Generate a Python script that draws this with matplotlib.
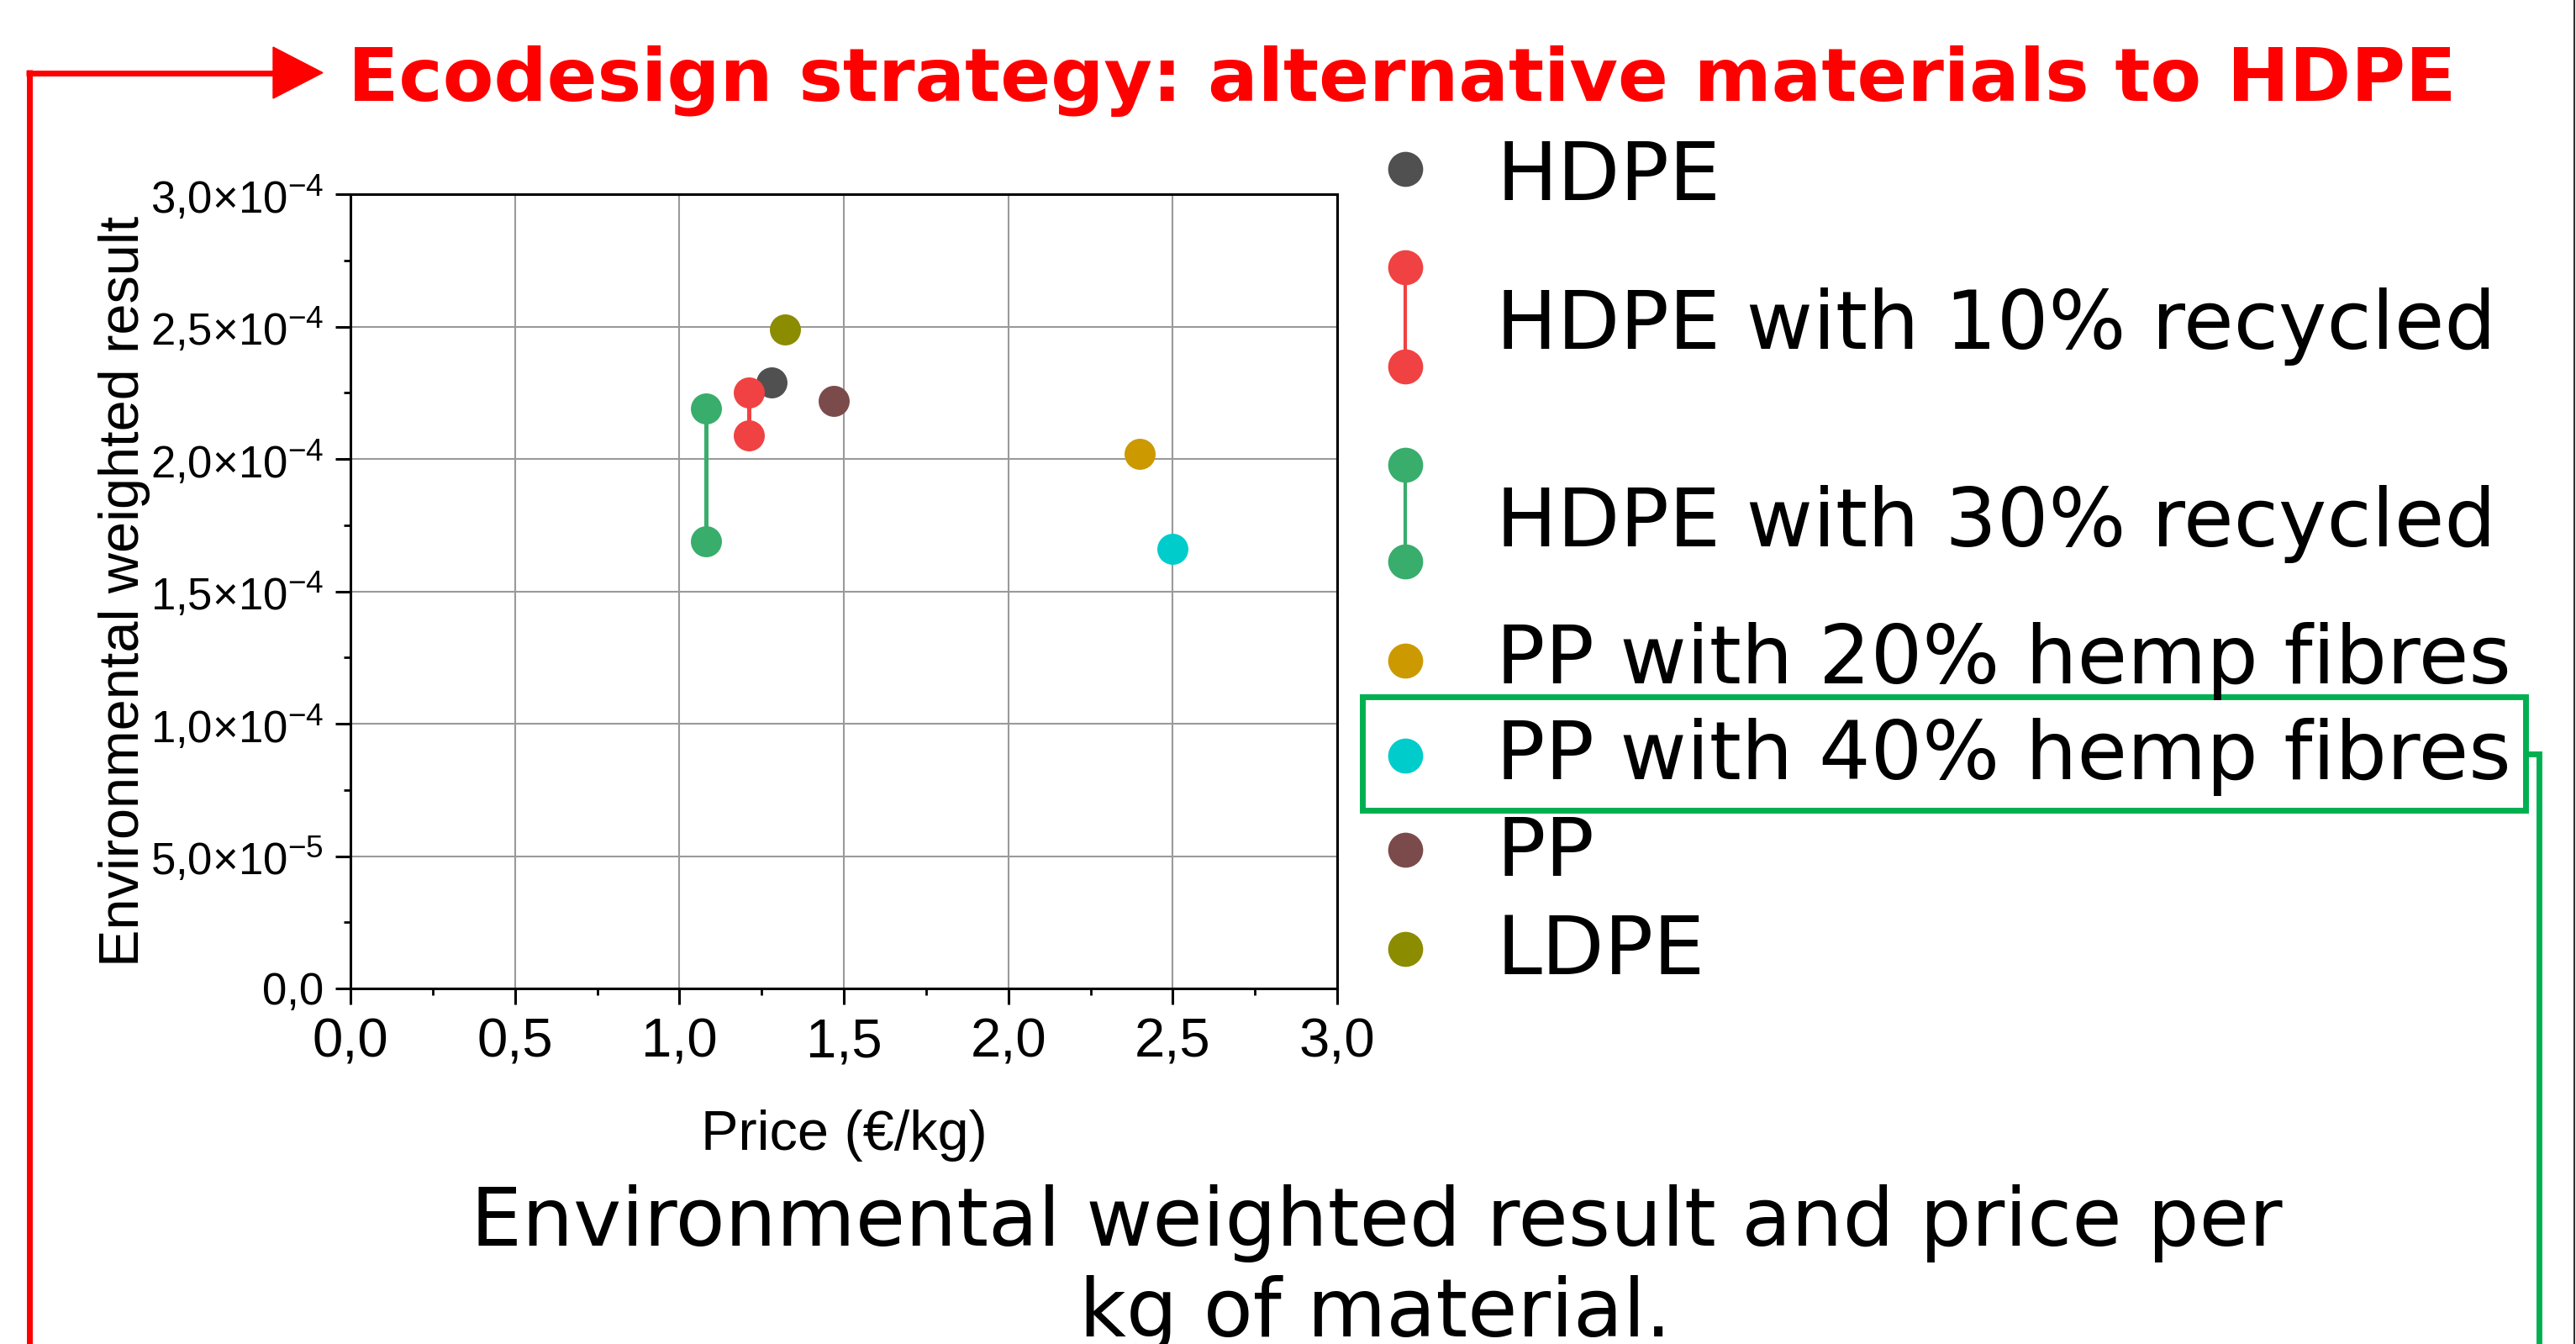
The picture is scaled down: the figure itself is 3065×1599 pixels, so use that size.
# Environmental weighted result vs price per kg of material (ecodesign slide)
import numpy as np
import matplotlib
matplotlib.use('Agg')
import matplotlib.pyplot as plt
from matplotlib.ticker import FuncFormatter, MultipleLocator
from matplotlib.patches import Rectangle, Polygon

W, H = 3065, 1599

# data
materials = ['HDPE', 'HDPE with 10% recycled', 'HDPE with 30% recycled',
             'PP with 20% hemp fibres', 'PP with 40% hemp fibres', 'PP', 'LDPE']
price = [1.28, 1.21, 1.08, 2.40, 2.50, 1.47, 1.32]          # EUR/kg
env_result = [[2.29e-4], [2.25e-4, 2.09e-4], [2.19e-4, 1.69e-4],
              [2.02e-4], [1.66e-4], [2.22e-4], [2.49e-4]]
colors = ['#505050', '#F04242', '#38AD6C', '#CC9900', '#00CCCC', '#7B4B4B', '#8C8C00']
x_ticks = [0.0, 0.5, 1.0, 1.5, 2.0, 2.5, 3.0]
y_ticks = [0.0, 5e-5, 1e-4, 1.5e-4, 2e-4, 2.5e-4, 3e-4]

title = 'Ecodesign strategy: alternative materials to HDPE'
caption = ['Environmental weighted result and price per', 'kg of material.']

plt.rcParams['mathtext.fontset'] = 'custom'
plt.rcParams['mathtext.rm'] = 'Liberation Sans'
plt.rcParams['mathtext.it'] = 'Liberation Sans'
plt.rcParams['font.family'] = ['Liberation Sans', 'DejaVu Sans']

fig = plt.figure(figsize=(W / 100, H / 100), dpi=100)
fig.patch.set_facecolor('white')

# main scatter axes
ax = fig.add_axes([417 / W, (H - 1176) / H, (1591 - 417) / W, (1176 - 231) / H])
for i, m in enumerate(materials):
    ys = env_result[i]
    xs = [price[i]] * len(ys)
    ax.plot(xs, ys, '-o', color=colors[i], lw=3.6, ms=26.6, mew=0, zorder=3)

ax.set_xlim(0, 3.0)
ax.set_ylim(0, 3e-4)
ax.set_xticks(x_ticks)
ax.set_yticks(y_ticks)
ax.xaxis.set_minor_locator(MultipleLocator(0.25))
ax.yaxis.set_minor_locator(MultipleLocator(2.5e-5))


def xfmt(v, pos):
    return f'{v:.1f}'.replace('.', ',')


def yfmt(v, pos):
    if v == 0:
        return '0,0'
    e = int(np.floor(np.log10(abs(v)) + 1e-9))
    mant = v / 10 ** e
    return f'{mant:.1f}'.replace('.', ',') + '×10$^{' + str(e) + '}$'


ax.xaxis.set_major_formatter(FuncFormatter(xfmt))
ax.yaxis.set_major_formatter(FuncFormatter(yfmt))
ax.tick_params(axis='x', which='major', labelsize=47, length=14, width=2.2, pad=11)
ax.tick_params(axis='y', which='major', labelsize=38, length=13, width=2.2, pad=10)
ax.tick_params(which='minor', length=6, width=2.0)
ax.grid(True, which='major', color='#9a9a9a', lw=1.5)
ax.set_axisbelow(True)
for s in ax.spines.values():
    s.set_linewidth(2.2)
    s.set_color('black')

ax.set_xlabel('Price (€/kg)', fontsize=48)
ax.set_ylabel('Environmental weighted result', fontsize=48)
ax.xaxis.set_label_coords(0.5, (1176 - 1320) / 945)
ax.yaxis.set_label_coords((179 - 417) / 1174, 0.5)

# overlay in reference pixel coordinates for the slide decorations
ov = fig.add_axes([0, 0, 1, 1], zorder=5)
ov.set_xlim(0, W)
ov.set_ylim(H, 0)
ov.axis('off')

renderer = fig.canvas.get_renderer()


def fit(t, target):
    bb = t.get_window_extent(renderer)
    t.set_fontsize(t.get_fontsize() * target / bb.width)
    return t.get_fontsize()


# title with red arrow frame
red = '#FF0000'
tt = ov.text(414, 120, title, color=red, fontsize=60, fontweight='bold',
             family='DejaVu Sans', va='baseline', ha='left')
fit(tt, 2512)
ov.plot([34.5, 34.5], [83, H + 5], color=red, lw=5, solid_capstyle='butt')
ov.plot([31, 330], [86.5, 86.5], color=red, lw=5, solid_capstyle='butt')
ov.add_patch(Polygon([[325, 56], [325, 117], [384, 86.5]], closed=True, color=red))

# legend drawn by hand (entries have uneven spacing)
leg_marker_y = [[200.5], [318, 436], [553, 668], [786], [898.5], [1011], [1128.6]]
leg_base_y = [238, 415, 649.5, 813, 927, 1042, 1159]
leg_texts = []
for i, m in enumerate(materials):
    ys = leg_marker_y[i]
    ov.plot([1672] * len(ys), ys, '-o', color=colors[i], lw=3, ms=30, mew=0)
    leg_texts.append(ov.text(1780, leg_base_y[i], m, fontsize=60, family='DejaVu Sans',
                             va='baseline', ha='left', color='black'))
fs = fit(leg_texts[4], 1210)
for t in leg_texts:
    t.set_fontsize(fs)

# green highlight around PP with 40% hemp fibres
green = '#00B050'
ov.add_patch(Rectangle((1620.5, 829), 3005 - 1620.5, 963.5 - 829, fill=False,
                       ec=green, lw=5, joinstyle='miter'))
ov.plot([3005, 3021, 3021], [897, 897, H + 5], color=green, lw=5, solid_joinstyle='miter')

# thin border on the right edge
ov.plot([3063, 3063], [0, H], color='#333333', lw=1.5)

# caption (second line is cut by the slide edge in the original)
c1 = ov.text(1638, 1482, caption[0], fontsize=60, family='DejaVu Sans',
             va='baseline', ha='center')
fs_c = fit(c1, 2160)
ov.text(1636, 1590, caption[1], fontsize=fs_c, family='DejaVu Sans',
        va='baseline', ha='center')

fig.savefig('out.png', dpi=100)
